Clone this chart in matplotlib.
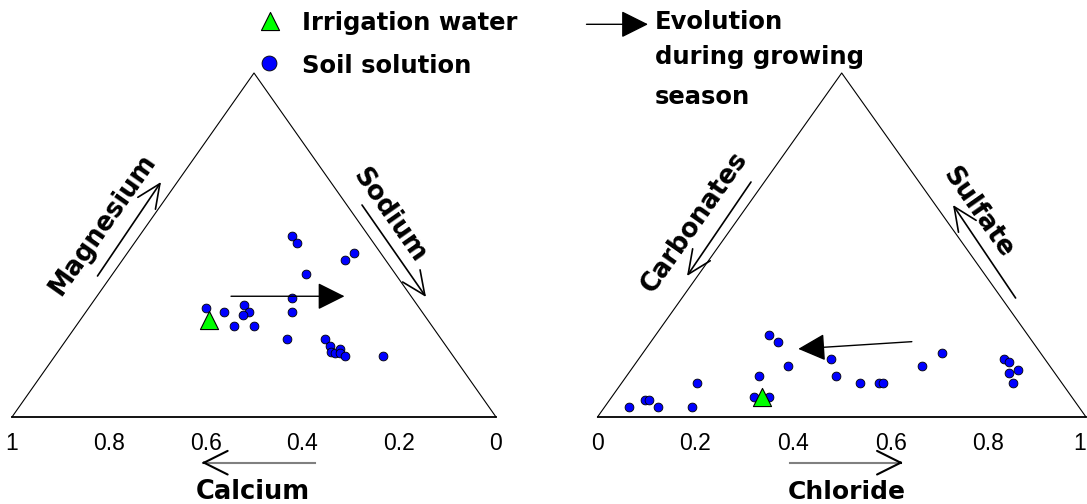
import numpy as np
import matplotlib.pyplot as plt

# left diagram (cations), fractions; sodium = 1 - calcium - magnesium
cat_ca = [0.158, 0.158, 0.055, 0.085, 0.185, 0.249, 0.442, 0.408, 0.358, 0.358,
          0.374, 0.268, 0.408, 0.368, 0.318, 0.239, 0.239, 0.246, 0.239, 0.223,
          0.229, 0.223, 0.145]
cat_mg = [0.526, 0.507, 0.476, 0.456, 0.416, 0.345, 0.316, 0.306, 0.326, 0.306,
          0.296, 0.306, 0.265, 0.265, 0.227, 0.227, 0.206, 0.189, 0.186, 0.198,
          0.186, 0.177, 0.177]
irr_ca, irr_mg = 0.451, 0.283

# right diagram (anions), fractions; carbonates = 1 - chloride - sulfate
an_cl = [0.232, 0.262, 0.394, 0.316, 0.429, 0.272, 0.154, 0.488, 0.527, 0.536,
         0.591, 0.611, 0.747, 0.762, 0.792, 0.777, 0.802, 0.072, 0.081, 0.051,
         0.110, 0.180, 0.291, 0.322]
an_so4 = [0.2375, 0.217, 0.168, 0.148, 0.118, 0.118, 0.098, 0.098, 0.098, 0.098,
          0.148, 0.187, 0.169, 0.159, 0.1375, 0.129, 0.098, 0.0485, 0.0485, 0.028,
          0.028, 0.028, 0.058, 0.058]
irr_cl, irr_so4 = 0.307, 0.058

# evolution arrows (start, end)
evo_ca = [0.372, 0.1375]
evo_mg = [0.351, 0.351]
evo_cl = [0.534, 0.312]
evo_so4 = [0.219, 0.198]

ticks = [0, 0.2, 0.4, 0.6, 0.8, 1]
tick_labels = ['0', '0.2', '0.4', '0.6', '0.8', '1']

# triangle corners in pixels: left, right, top
LEFT_TRI = np.array([[12, 417], [496, 417], [254, 73]])
RIGHT_TRI = np.array([[597.5, 417], [1086, 417], [841.7, 73]])


def tern(a, b, c, corners):
    """weights for left, right and top corner -> x, y"""
    a, b, c = np.asarray(a, float), np.asarray(b, float), np.asarray(c, float)
    x = a * corners[0, 0] + b * corners[1, 0] + c * corners[2, 0]
    y = a * corners[0, 1] + b * corners[1, 1] + c * corners[2, 1]
    return x, y


def cations(ca, mg):
    ca, mg = np.asarray(ca, float), np.asarray(mg, float)
    return tern(ca, 1 - ca - mg, mg, LEFT_TRI)


def anions(cl, so4):
    cl, so4 = np.asarray(cl, float), np.asarray(so4, float)
    return tern(1 - cl - so4, cl, so4, RIGHT_TRI)


fig = plt.figure(figsize=(10.87, 5.04), dpi=100)
ax = fig.add_axes([0, 0, 1, 1])
ax.set_xlim(0, 1087)
ax.set_ylim(504, 0)
ax.axis('off')

txt_font = 'DejaVu Sans'
num_font = 'Liberation Sans'

# triangles
for tri in [LEFT_TRI, RIGHT_TRI]:
    ax.plot([tri[0, 0], tri[2, 0], tri[1, 0]], [tri[0, 1], tri[2, 1], tri[1, 1]],
            color='black', lw=0.8)
    ax.plot(tri[:2, 0], tri[:2, 1], color='black', lw=1.3)

# base tick labels
for v, lab in zip(ticks, tick_labels):
    x, y = cations(v, 0)
    ax.text(float(x), 450, lab, ha='center', va='baseline', fontsize=16.5, family=num_font)
    x, y = anions(v, 0)
    ax.text(min(float(x), 1080), 450, lab, ha='center', va='baseline', fontsize=16.5,
            family=num_font)

# points
x, y = cations(cat_ca, cat_mg)
ax.scatter(x, y, s=40, c='#0000ff', edgecolors='black', linewidths=0.6, zorder=3)
x, y = cations(irr_ca, irr_mg)
ax.scatter(x, y, s=170, marker='^', c='#00ff00', edgecolors='black', linewidths=0.8, zorder=4)
x, y = anions(an_cl, an_so4)
ax.scatter(x, y, s=40, c='#0000ff', edgecolors='black', linewidths=0.6, zorder=3)
x, y = anions(irr_cl, irr_so4)
ax.scatter(x, y, s=170, marker='^', c='#00ff00', edgecolors='black', linewidths=0.8, zorder=4)

# evolution arrows
filled = dict(arrowstyle='-|>,head_length=1.0,head_width=0.5', mutation_scale=17,
              color='black', lw=1, shrinkA=0, shrinkB=0)
ex, ey = cations(evo_ca, evo_mg)
ax.annotate('', xy=(ex[1], ey[1]), xytext=(ex[0], ey[0]), arrowprops=filled, zorder=5)
ex, ey = anions(evo_cl, evo_so4)
ax.annotate('', xy=(ex[1], ey[1]), xytext=(ex[0], ey[0]), arrowprops=filled, zorder=5)

# side arrows and labels
opn = dict(arrowstyle='->,head_length=1.0,head_width=0.45', mutation_scale=17,
           color='black', lw=1.2, shrinkA=0, shrinkB=0)
ang = np.degrees(np.arctan2(417 - 73, 254 - 12))
ax.annotate('', xy=(161, 182), xytext=(97.5, 276), arrowprops=opn)
ax.annotate('', xy=(426, 297), xytext=(362, 205), arrowprops=opn)
ax.annotate('', xy=(687, 276), xytext=(751, 182), arrowprops=opn)
ax.annotate('', xy=(953, 205), xytext=(1015.6, 298), arrowprops=opn)
side = dict(ha='center', va='center', rotation_mode='anchor', fontsize=18.5,
            fontweight='bold', family=txt_font)
ax.text(103, 224, 'Magnesium', rotation=ang, **side)
ax.text(389, 215, 'Sodium', rotation=-ang, **side)
ax.text(694.5, 222, 'Carbonates', rotation=ang, **side)
ax.text(977.5, 213, 'Sulfate', rotation=-ang, **side)

# base arrows: grey shaft, black head
head = dict(arrowstyle='->,head_length=1.0,head_width=0.5', mutation_scale=17,
            color='black', lw=1.5, shrinkA=0, shrinkB=0)
ax.plot([315, 203], [462.7, 462.7], color='#808080', lw=1.5)
ax.annotate('', xy=(201.7, 462.7), xytext=(205, 462.7), arrowprops=head)
ax.plot([790, 901], [462.7, 462.7], color='#808080', lw=1.5)
ax.annotate('', xy=(903, 462.7), xytext=(899, 462.7), arrowprops=head)
ax.text(253, 499, 'Calcium', ha='center', va='baseline', fontsize=18.5,
        fontweight='bold', family=txt_font)
ax.text(847, 499, 'Chloride', ha='center', va='baseline', fontsize=18,
        fontweight='bold', family=txt_font)

# legend
ax.scatter([270], [20.5], s=170, marker='^', c='#00ff00', edgecolors='black', linewidths=0.8)
ax.scatter([269.3], [62.7], s=115, c='#0000ff', edgecolors='black', linewidths=0.6)
ax.text(301.7, 30, 'Irrigation water', ha='left', va='baseline', fontsize=17.5,
        fontweight='bold', family=txt_font)
ax.text(301.7, 72.7, 'Soil solution', ha='left', va='baseline', fontsize=17.5,
        fontweight='bold', family=txt_font)
ax.annotate('', xy=(648, 24.3), xytext=(586.5, 24.3), arrowprops=filled)
ax.text(655, 29.3, 'Evolution', ha='left', va='baseline', fontsize=17.5,
        fontweight='bold', family=txt_font)
ax.text(655, 64, 'during growing', ha='left', va='baseline', fontsize=17.5,
        fontweight='bold', family=txt_font)
ax.text(655, 103.5, 'season', ha='left', va='baseline', fontsize=17.5,
        fontweight='bold', family=txt_font)

fig.savefig('out.png', dpi=100)
